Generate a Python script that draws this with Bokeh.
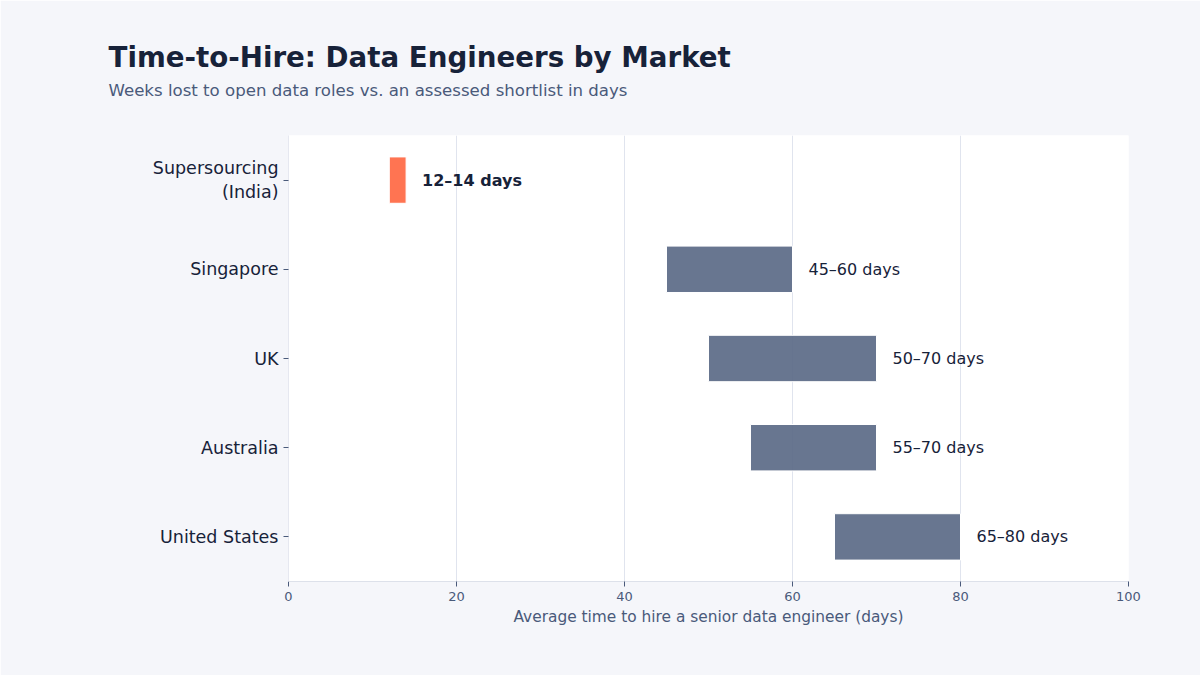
from bokeh.plotting import figure
from bokeh.models import ColumnDataSource, FactorRange, Title, Range1d, FixedTicker
from bokeh.core.properties import value
from bokeh.embed import file_html
from bokeh.resources import INLINE

markets = ["Supersourcing\n(India)", "Singapore", "UK", "Australia", "United States"]
low_days = [12, 45, 50, 55, 65]
high_days = [14, 60, 70, 70, 80]
labels = ["12\u201314 days", "45\u201360 days", "50\u201370 days", "55\u201370 days", "65\u201380 days"]
colors = ["#ff7452", "#5b6a87", "#5b6a87", "#5b6a87", "#5b6a87"]
alphas = [1.0, 0.92, 0.92, 0.92, 0.92]
weights = ["bold", "normal", "normal", "normal", "normal"]
title_text = "Time-to-Hire: Data Engineers by Market"
subtitle_text = "Weeks lost to open data roles vs. an assessed shortlist in days"

FONT = "DejaVu Sans"
src = ColumnDataSource(dict(m=markets, lo=low_days, hi=high_days, lab=labels,
                            c=colors, a=alphas, w=weights))

p = figure(width=1200, height=675, output_backend="svg", toolbar_location=None,
           y_range=FactorRange(*reversed(markets)), x_range=Range1d(0, 100),
           min_border_left=288, min_border_right=72, min_border_bottom=94, min_border_top=135)
p.background_fill_color = "white"
p.border_fill_color = "#f5f6fa"
p.outline_line_color = None

p.title.text = title_text
p.title.text_font = FONT
p.title.text_font_size = "27.7px"
p.title.text_font_style = "bold"
p.title.text_color = "#172239"
p.title.offset = -180
p.title.standoff = 9
# spacer between subtitle and plot frame (closest to frame)
p.add_layout(Title(text=" ", text_font=FONT, text_font_size="1px",
                   text_color="#f5f6fa", standoff=32.5), "above")
p.add_layout(Title(text=subtitle_text, text_font=FONT, text_font_size="16.6px",
                   text_font_style="normal", text_color="#4a5a7a", offset=-180,
                   standoff=0), "above")

p.hbar(y="m", left="lo", right="hi", height=0.52, source=src, fill_color="c",
       fill_alpha="a", line_color="white", line_width=1)
p.text(x="hi", y="m", text="lab", source=src, x_offset=16, text_baseline="middle",
       text_align="left", text_font=value(FONT), text_font_size="16px",
       text_font_style="w", text_color="#172239")

p.xaxis.ticker = FixedTicker(ticks=[0, 20, 40, 60, 80, 100])
p.xaxis.axis_label = "Average time to hire a senior data engineer (days)"
p.xaxis.axis_label_text_font = FONT
p.xaxis.axis_label_text_font_size = "15.4px"
p.xaxis.axis_label_text_font_style = "normal"
p.xaxis.axis_label_text_color = "#4a5a7a"
p.xaxis.axis_label_standoff = 4
p.xaxis.major_label_text_font = FONT
p.xaxis.major_label_text_font_size = "13px"
p.xaxis.major_label_text_color = "#4a5a7a"
p.xaxis.axis_line_color = "#dde1ea"
p.xaxis.major_tick_line_color = "#4a5a7a"
p.xaxis.major_tick_in = 0
p.xaxis.major_tick_out = 5
p.xaxis.minor_tick_line_color = None

p.yaxis.major_label_text_font = FONT
p.yaxis.major_label_text_font_size = "17.5px"
p.yaxis.major_label_text_color = "#172239"
p.yaxis.axis_line_color = "#e6e8f0"
p.yaxis.major_tick_line_color = "#4a5a7a"
p.yaxis.major_tick_in = 0
p.yaxis.major_tick_out = 5

p.xgrid.grid_line_color = "#e0e4ee"
p.ygrid.grid_line_color = None

open("out.html", "w").write(file_html(p, INLINE))
